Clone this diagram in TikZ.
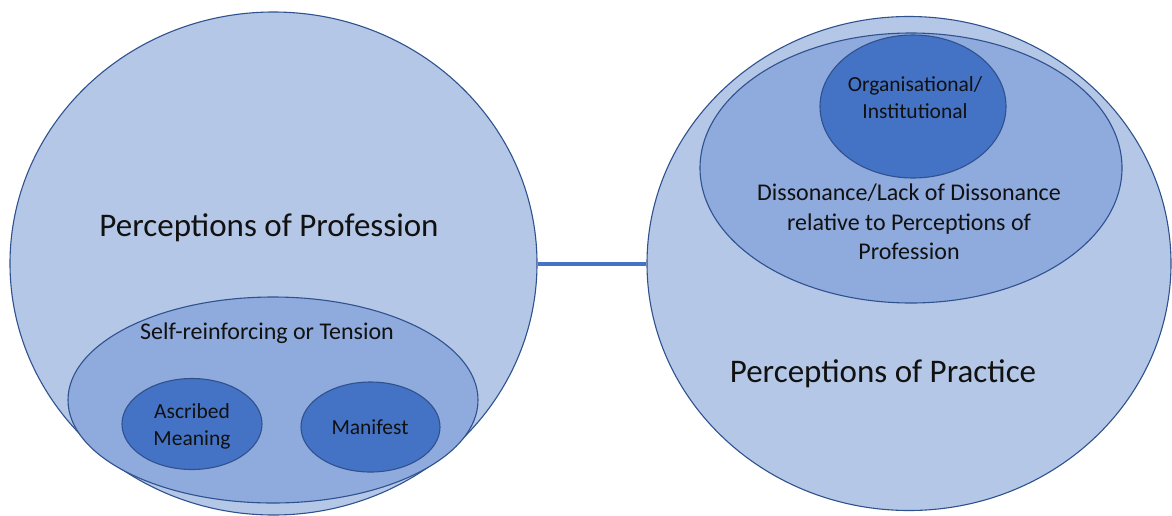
\documentclass[tikz,border=0pt]{standalone}
\usepackage{fontspec}
\setmainfont{Carlito}
\usetikzlibrary{shapes.geometric}
\definecolor{fillA}{HTML}{B4C7E7}
\definecolor{fillB}{HTML}{8FAADC}
\definecolor{fillC}{HTML}{4472C4}
\definecolor{edgeC}{HTML}{2F528F}
\definecolor{connC}{HTML}{4472C4}
\definecolor{txtC}{HTML}{111111}
\tikzset{
  blob/.style={ellipse, draw=edgeC, line width=1.1pt, inner sep=0pt},
  outerblob/.style={blob, fill=fillA},
  midblob/.style={blob, fill=fillB},
  innerblob/.style={blob, fill=fillC},
  bigtxt/.style={text=txtC, font=\fontsize{33}{38}\selectfont, inner sep=0pt},
  medtxt/.style={text=txtC, font=\fontsize{24}{29.5}\selectfont, align=center, inner sep=0pt},
  smalltxt/.style={text=txtC, font=\fontsize{21.5}{27}\selectfont, align=center, inner sep=0pt},
  conn/.style={draw=connC, line width=4pt}
}
\begin{document}
\begin{tikzpicture}[x=1pt,y=-1pt]
\useasboundingbox (0,0) rectangle (1172,515);
\fill[white] (0,0) rectangle (1172,515);
% left group
\node[outerblob, minimum width=527pt, minimum height=503pt] (L) at (273.5,263.5) {};
\node[midblob, minimum width=410pt, minimum height=206pt] (LM) at (273,400) {};
\node[innerblob, minimum width=140pt, minimum height=91pt] (AM) at (192,424) {};
\node[innerblob, minimum width=139pt, minimum height=90pt] (MF) at (370.5,427) {};
\node[bigtxt] (Ltxt) at (269,228) {Perceptions of Profession};
\node[medtxt] (LMtxt) at (267,333) {Self-reinforcing or Tension};
\node[smalltxt] (AMtxt) at (192,426) {Ascribed\\Meaning};
\node[smalltxt] (MFtxt) at (370,427) {Manifest};
% right group
\node[outerblob, minimum width=524pt, minimum height=494pt] (R) at (909,263.5) {};
\node[midblob, minimum width=422pt, minimum height=270pt] (RM) at (911,168) {};
\node[innerblob, minimum width=186pt, minimum height=143pt] (OI) at (913,106.5) {};
\node[smalltxt] (OItxt) at (915,98) {Organisational/\\Institutional};
\node[medtxt] (RMtxt) at (909,222) {Dissonance/Lack of Dissonance\\relative to Perceptions of\\Profession};
\node[bigtxt] (Rtxt) at (883,374) {Perceptions of Practice};
% connector
\draw[conn] (L.east) -- (R.west);
\end{tikzpicture}
\end{document}
